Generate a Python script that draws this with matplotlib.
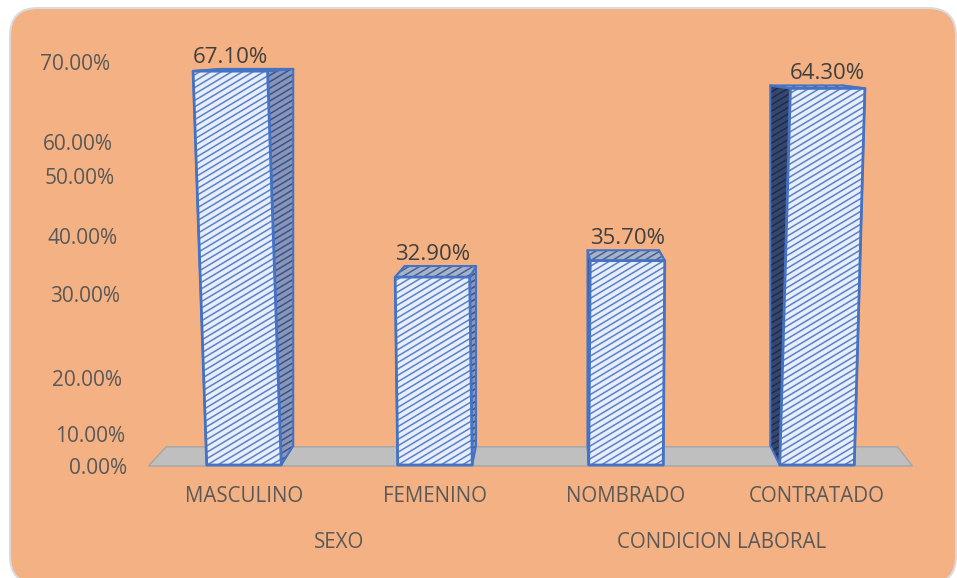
import matplotlib
matplotlib.use("Agg")
import matplotlib.pyplot as plt
import numpy as np
from matplotlib.collections import LineCollection
from matplotlib.patches import FancyBboxPatch, Polygon
from matplotlib.transforms import IdentityTransform

plt.rcParams["font.family"] = ["Open Sans", "DejaVu Sans"]

# ─── Data ──────────────────────────────────────────────────────────────────────
categories = ["MASCULINO", "FEMENINO", "NOMBRADO", "CONTRATADO"]
values = [67.10, 32.90, 35.70, 64.30]
groups = ["SEXO", "CONDICION LABORAL"]
group_members = [[0, 1], [2, 3]]
tick_labels = ["70.00%", "60.00%", "50.00%", "40.00%",
               "30.00%", "20.00%", "10.00%", "0.00%"]

# ─── Layout / style ────────────────────────────────────────────────────────────
W, H = 957, 578
BG = "#F4B183"
EDGE = "#4472C4"
# y-axis labels sit on the back wall, placed by (right edge, centre) in pixels
tick_label_px = [(110, 65), (113, 145), (115, 178), (118, 238),
                 (120, 297), (122, 380), (125, 437), (127, 468)]
BAR_W = 0.39            # bar width in category units
VP = np.array([560.0, H - 20.0])   # vanishing point (display px)
DEPTH = 0.043           # how far the back face sits towards the vanishing point
LEAN = 1.1e-4           # outward lean of the front face edges
STRIPE_SLOPE = 0.6
STRIPE_STEP = 5.5

# mild perspective stretch on the value axis
A_LIN, B_QUAD = 5.56, 0.00462


def fwd(v):
    v = np.asarray(v, dtype=float)
    return A_LIN * v + B_QUAD * v * np.abs(v)


def inv(u):
    u = np.asarray(u, dtype=float)
    r = np.sqrt(A_LIN ** 2 + 4 * B_QUAD * np.abs(u))
    return np.sign(u) * (r - A_LIN) / (2 * B_QUAD)


fig = plt.figure(figsize=(W / 100, H / 100), dpi=100)
fig.patch.set_facecolor("white")

frame = FancyBboxPatch((10, -6), 946, 576, boxstyle="round,pad=0,rounding_size=28",
                       transform=IdentityTransform(), facecolor=BG,
                       edgecolor="#DADADA", linewidth=1.5, zorder=-10)
fig.add_artist(frame)

ax = fig.add_axes([0, 0, 1, 1])
ax.set_facecolor("none")
ax.axis("off")
ax.set_xlim(-244 / 191, (W - 244) / 191)
ax.set_yscale("function", functions=(fwd, inv))
ax.set_ylim(float(inv(-113)), float(inv(465)))
ax.set_autoscale_on(False)


def to_disp(pts):
    return ax.transData.transform(np.atleast_2d(pts))


def to_data(pts):
    return ax.transData.inverted().transform(np.atleast_2d(pts))


def back(p):
    p = np.asarray(p, dtype=float)
    return p + DEPTH * (VP - p)


def face(pts_disp, fill, stripe, z, lw_edge=1.5, stripe_lw=1.1):
    pts_disp = np.asarray(pts_disp, dtype=float)
    pts = to_data(pts_disp)
    poly = Polygon(pts, closed=True, facecolor=fill, edgecolor="none", zorder=z)
    ax.add_patch(poly)

    x0, x1 = pts_disp[:, 0].min() - 3, pts_disp[:, 0].max() + 3
    y0, y1 = pts_disp[:, 1].min(), pts_disp[:, 1].max()
    b_lo = y0 - STRIPE_SLOPE * x1 - 5
    b_hi = y1 - STRIPE_SLOPE * x0 + 5
    step = STRIPE_STEP * np.sqrt(1 + STRIPE_SLOPE ** 2)
    segs = []
    for b in np.arange(b_lo, b_hi, step):
        seg = np.array([[x0, STRIPE_SLOPE * x0 + b], [x1, STRIPE_SLOPE * x1 + b]])
        segs.append(to_data(seg))
    lc = LineCollection(segs, colors=stripe, linewidths=stripe_lw, zorder=z)
    ax.add_collection(lc)
    lc.set_clip_path(poly)

    ax.add_patch(Polygon(pts, closed=True, facecolor="none", edgecolor=EDGE,
                         linewidth=lw_edge, joinstyle="round", zorder=z))


# ─── Floor ─────────────────────────────────────────────────────────────────────
fl = to_disp([(-0.5, 0)])[0] + [0, -1]
fr = to_disp([(len(categories) - 0.5, 0)])[0] + [0, -1]
floor = to_data([fl, fr, back(fr), back(fl)])
ax.add_patch(Polygon(floor, closed=True, facecolor="#BFBFBF",
                     edgecolor="#A6A6A6", linewidth=1.0, zorder=1))

# ─── Bars ──────────────────────────────────────────────────────────────────────
for i, v in enumerate(values):
    (xl, yb), (xr, _) = to_disp([(i - BAR_W / 2, 0), (i + BAR_W / 2, 0)])
    yt = to_disp([(i, v)])[0][1]
    xc = (xl + xr) / 2
    lean = LEAN * (xc - VP[0]) * (yt - yb)

    FL, FR = np.array([xl, yb]), np.array([xr, yb])
    TL, TR = np.array([xl + lean, yt]), np.array([xr + lean, yt])
    BLb, BRb = back(FL), back(FR)
    BLt, BRt = back([xl, yt]), back([xr, yt])

    face([FL, TL, BLt, BLb], "#36476E", "#1F2C4E", 2 + i * 0.1)
    face([FR, TR, BRt, BRb], "#8796B8", "#3C5288", 2 + i * 0.1)
    face([TL, TR, BRt, BLt], "#A7B3CB", "#4B5E8C", 2.02 + i * 0.1)
    face([FL, FR, TR, TL], "#E6EEFA", "#5E80C8", 2.05 + i * 0.1, lw_edge=2.0)

    lx, ly = to_data([((TL[0] + TR[0]) / 2, max(BLt[1], BRt[1]) + 1)])[0]
    ax.text(lx, ly, f"{v:.2f}%", ha="center", va="bottom",
            fontsize=16, color="#404040", zorder=5)

# ─── Axis texts ────────────────────────────────────────────────────────────────
for lab, (px, py) in zip(tick_labels, tick_label_px):
    fig.text(px / W, 1 - py / H, lab, ha="right", va="center",
             fontsize=15, color="#595959")

xt = ax.get_xaxis_transform()
for i, cat in enumerate(categories):
    ax.text(i, 1 - 496 / H, cat, transform=xt, ha="center", va="center",
            fontsize=14.8, color="#595959")
for g, members in zip(groups, group_members):
    ax.text(np.mean(members), 1 - 542 / H, g, transform=xt, ha="center",
            va="center", fontsize=14.8, color="#595959")

fig.savefig("out.png", dpi=100)
